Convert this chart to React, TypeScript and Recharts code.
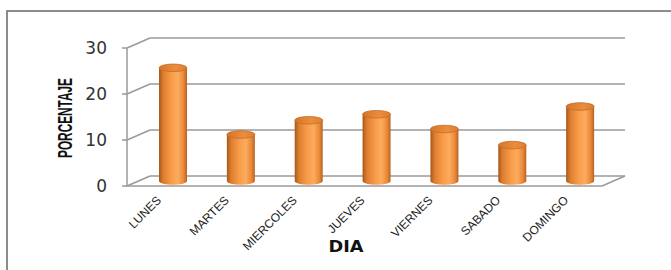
import { BarChart, Bar, XAxis, YAxis, CartesianGrid } from 'recharts';

const dias = ['LUNES', 'MARTES', 'MIERCOLES', 'JUEVES', 'VIERNES', 'SABADO', 'DOMINGO'];
const porcentajes = [24.6, 10.1, 13.2, 14.5, 11.3, 7.8, 16.2];
const yTicks = [0, 10, 20, 30];

const data = dias.map((dia, i) => ({ dia, valor: porcentajes[i] }));

// 3D look: back wall offset and bar depth offset
const DEPTH_X = 23;
const DEPTH_Y = -10;
const GRID = '#9a9a9a';

const GridLine = (props: any) => {
  const { x1, x2, y1 } = props;
  const isFloor = y1 >= 185;
  return (
    <g>
      <line x1={x1} y1={y1} x2={x1 + DEPTH_X} y2={y1 + DEPTH_Y} stroke={GRID} strokeWidth={1.5} />
      <line x1={x1 + DEPTH_X} y1={y1 + DEPTH_Y} x2={x2 + DEPTH_X} y2={y1 + DEPTH_Y} stroke={GRID} strokeWidth={1.5} />
      {isFloor && (
        <line x1={x2} y1={y1} x2={x2 + DEPTH_X} y2={y1 + DEPTH_Y} stroke={GRID} strokeWidth={1.5} />
      )}
    </g>
  );
};

const Cylinder = (props: any) => {
  const { x, y, width, height } = props;
  const dx = 12;
  const dy = -5;
  const rx = width / 2;
  const ry = 3.8;
  const left = x + dx;
  const right = x + width + dx;
  const top = y + dy;
  const bottom = y + height + dy;
  const cx = left + rx;
  return (
    <g>
      <path
        d={`M${left},${top} L${left},${bottom} A${rx},${ry} 0 0 0 ${right},${bottom} L${right},${top} Z`}
        fill="url(#cylBody)"
      />
      <ellipse cx={cx} cy={top} rx={rx} ry={ry} fill="url(#cylTop)" stroke="#c56d27" strokeWidth={0.8} />
    </g>
  );
};

const YTick = (props: any) => {
  const { x, y, payload } = props;
  return (
    <g>
      <line x1={x - 5} y1={y} x2={x} y2={y} stroke={GRID} strokeWidth={1.5} />
      <text x={x - 20} y={y + 6} textAnchor="end" fontFamily="DejaVu Sans" fontSize={17} fill="#333">
        {payload.value}
      </text>
    </g>
  );
};

const XTick = (props: any) => {
  const { x, y, payload } = props;
  const tx = x + 1;
  const ty = y + 15;
  return (
    <text
      x={tx}
      y={ty}
      textAnchor="end"
      transform={`rotate(-45 ${tx} ${ty})`}
      fontFamily="Liberation Sans, Arial, sans-serif"
      fontSize={12}
      fill="#222"
    >
      {payload.value}
    </text>
  );
};

export default function App() {
  return (
    <div style={{ position: 'absolute', left: 0, top: 0, width: 671, height: 270, overflow: 'hidden', background: '#fff' }}>
      <div
        style={{
          position: 'absolute',
          left: 6,
          top: 10,
          width: 720,
          height: 320,
          borderLeft: '2px solid #8c8c8c',
          borderTop: '2px solid #8c8c8c',
        }}
      />
      <div style={{ position: 'absolute', left: 0, top: 0 }}>
        <BarChart width={671} height={270} data={data} margin={{ top: 48, right: 69, bottom: 0, left: 0 }}>
          <defs>
            <linearGradient id="cylBody" x1="0" y1="0" x2="1" y2="0">
              <stop offset="0%" stopColor="#a85619" />
              <stop offset="15%" stopColor="#dc7e2f" />
              <stop offset="45%" stopColor="#f99c4a" />
              <stop offset="68%" stopColor="#fcab5e" />
              <stop offset="88%" stopColor="#e88838" />
              <stop offset="100%" stopColor="#b7621f" />
            </linearGradient>
            <linearGradient id="cylTop" x1="0" y1="0" x2="1" y2="0">
              <stop offset="0%" stopColor="#d4752a" />
              <stop offset="60%" stopColor="#ec8d3d" />
              <stop offset="100%" stopColor="#dc7d31" />
            </linearGradient>
          </defs>
          <CartesianGrid vertical={false} horizontal={(p: any) => <GridLine key={p.key} {...p} />} />
          <XAxis
            dataKey="dia"
            height={84}
            interval={0}
            tickLine={false}
            tickSize={0}
            tickMargin={0}
            axisLine={{ stroke: GRID, strokeWidth: 1.5 }}
            tick={<XTick />}
            label={(p: any) => {
              const vb = p.viewBox;
              return (
                <text
                  x={vb.x + 219}
                  y={vb.y + 66}
                  textAnchor="middle"
                  fontFamily="DejaVu Sans"
                  fontWeight="bold"
                  fontSize={16}
                  textLength={35}
                  lengthAdjust="spacingAndGlyphs"
                  fill="#111"
                >
                  DIA
                </text>
              );
            }}
          />
          <YAxis
            width={127}
            domain={[0, 30]}
            ticks={yTicks}
            tickLine={false}
            tickSize={0}
            tickMargin={0}
            axisLine={{ stroke: GRID, strokeWidth: 1.5 }}
            tick={<YTick />}
            label={() => {
              const cx = 72;
              const cy = 118;
              return (
                <text
                  x={cx}
                  y={cy}
                  textAnchor="middle"
                  transform={`rotate(-90 ${cx} ${cy})`}
                  fontFamily="Liberation Sans Narrow, Liberation Sans, Arial, sans-serif"
                  fontWeight="bold"
                  fontSize={20}
                  textLength={80}
                  lengthAdjust="spacingAndGlyphs"
                  fill="#111"
                >
                  PORCENTAJE
                </text>
              );
            }}
          />
          <Bar dataKey="valor" barSize={28} shape={<Cylinder />} isAnimationActive={false} />
        </BarChart>
      </div>
    </div>
  );
}
